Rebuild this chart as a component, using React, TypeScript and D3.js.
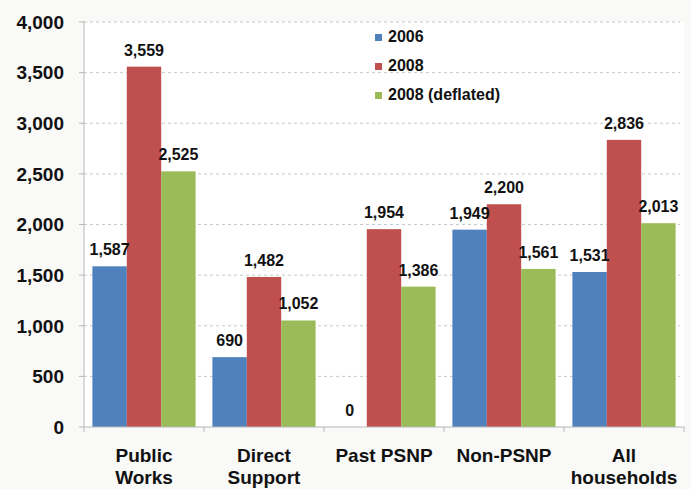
import React from 'react';
import * as d3 from 'd3';

const categories = ['Public Works', 'Direct Support', 'Past PSNP', 'Non-PSNP', 'All households'];
const categoryLines = [['Public', 'Works'], ['Direct', 'Support'], ['Past PSNP'], ['Non-PSNP'], ['All', 'households']];
const seriesNames = ['2006', '2008', '2008 (deflated)'];
const values2006 = [1587, 690, 0, 1949, 1531];
const values2008 = [3559, 1482, 1954, 2200, 2836];
const values2008Deflated = [2525, 1052, 1386, 1561, 2013];
const yTicks = [0, 500, 1000, 1500, 2000, 2500, 3000, 3500, 4000];
const colors = ['#4f81bd', '#c0504d', '#9bbb59'];

export default function App() {
  const width = 691;
  const height = 489;
  const margin = { top: 22, right: 7, bottom: 62, left: 84 };
  const font = '"Liberation Sans", Arial, sans-serif';

  const series = [values2006, values2008, values2008Deflated];

  const x = d3.scaleBand()
    .domain(categories)
    .range([margin.left, width - margin.right])
    .paddingInner(0.14)
    .paddingOuter(0.07);

  const xSub = d3.scaleBand()
    .domain(seriesNames)
    .range([0, x.bandwidth()]);

  const y = d3.scaleLinear()
    .domain([0, 4000])
    .range([height - margin.bottom, margin.top]);

  const fmt = d3.format(',');
  const step = x.step();
  const x0 = margin.left;
  const x1 = width - margin.right;

  return (
    <svg width={width} height={height} style={{ position: 'absolute', left: 0, top: 0 }}>
      <rect x={0} y={0} width={width} height={height} fill="#f9f9f7" />
      <rect x={x0} y={margin.top} width={x1 - x0} height={y(0) - margin.top} fill="#ffffff" />

      {/* gridlines */}
      {yTicks.filter(t => t > 0).map(t => (
        <line key={t} x1={x0} x2={x1 - 4} y1={y(t)} y2={y(t)}
          stroke="#c8c8c8" strokeDasharray="3,3" strokeWidth={1} />
      ))}

      {/* bars */}
      {categories.map((c, i) => (
        <g key={c}>
          {series.map((s, j) => (
            <rect key={j}
              x={(x(c) ?? 0) + (xSub(seriesNames[j]) ?? 0)}
              y={y(s[i])}
              width={xSub.bandwidth()}
              height={y(0) - y(s[i])}
              fill={colors[j]} />
          ))}
        </g>
      ))}

      {/* value labels */}
      {categories.map((c, i) => series.map((s, j) => (
        <text key={c + j}
          x={(x(c) ?? 0) + (xSub(seriesNames[j]) ?? 0) + xSub.bandwidth() / 2}
          y={y(s[i]) - 11}
          textAnchor="middle" fontFamily={font} fontWeight="bold" fontSize={16} fill="#111">
          {fmt(s[i])}
        </text>
      )))}

      {/* y axis */}
      <line x1={x0} x2={x0} y1={margin.top - 1} y2={y(0)} stroke="#b8b8b8" />
      {yTicks.map(t => (
        <g key={t}>
          <line x1={x0 - 5} x2={x0} y1={y(t)} y2={y(t)} stroke="#b8b8b8" />
          <text x={64} y={y(t)} dy="0.36em" textAnchor="end"
            fontFamily={font} fontWeight="bold" fontSize={19} fill="#111">
            {fmt(t)}
          </text>
        </g>
      ))}

      {/* x axis */}
      <line x1={x0} x2={x1} y1={y(0)} y2={y(0)} stroke="#b8b8b8" />
      {d3.range(categories.length + 1).map(k => (
        <line key={k} x1={x0 + k * step} x2={x0 + k * step} y1={y(0)} y2={y(0) + 5} stroke="#b8b8b8" />
      ))}
      {categories.map((c, i) => (
        <text key={c} x={(x(c) ?? 0) + x.bandwidth() / 2} y={462}
          textAnchor="middle" fontFamily={font} fontWeight="bold" fontSize={19} fill="#111">
          {categoryLines[i].map((line, k) => (
            <tspan key={k} x={(x(c) ?? 0) + x.bandwidth() / 2} dy={k === 0 ? 0 : 22}>{line}</tspan>
          ))}
        </text>
      ))}

      {/* legend */}
      {seriesNames.map((n, j) => (
        <g key={n} transform={`translate(375, ${34 + j * 29})`}>
          <rect x={0} y={0} width={7} height={7} fill={colors[j]} />
          <text x={13} y={8} fontFamily={font} fontWeight="bold" fontSize={16} fill="#111">{n}</text>
        </g>
      ))}
    </svg>
  );
}
